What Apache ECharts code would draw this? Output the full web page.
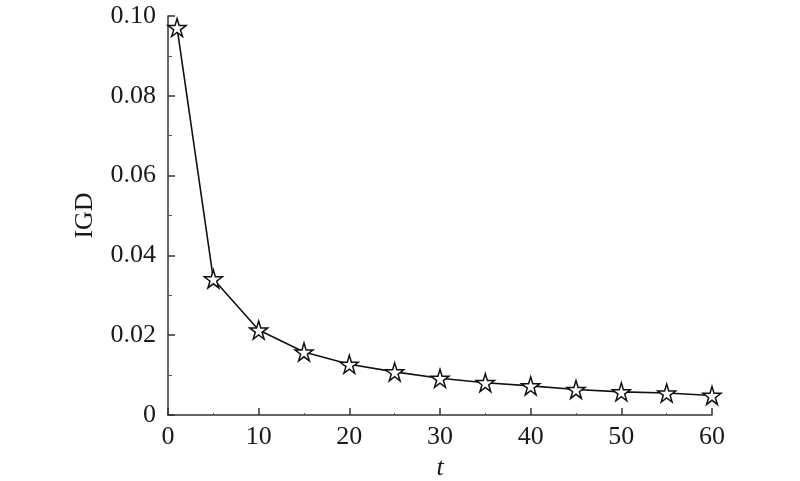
<!DOCTYPE html>
<html><head><meta charset="utf-8">
<script src="https://cdn.jsdelivr.net/npm/echarts@6/dist/echarts.min.js"></script>
<style>html,body{margin:0;padding:0;background:#fff}#c{width:800px;height:481px}</style>
</head><body><div id="c"></div>
<script>
const tValues = [1, 5, 10, 15, 20, 25, 30, 35, 40, 45, 50, 55, 60];
const igdValues = [0.0971, 0.0341, 0.0213, 0.0158, 0.0127, 0.0108, 0.0092, 0.0081, 0.0073, 0.0064, 0.0058, 0.0055, 0.0049];
const xTicks = [0, 10, 20, 30, 40, 50, 60];
const yTicks = [0, 0.02, 0.04, 0.06, 0.08, 0.10];

const font = 'Liberation Serif';
const chart = echarts.init(document.getElementById('c'));
chart.setOption({
  animation: false,
  backgroundColor: '#fff',
  grid: {left: 168, right: 88, top: 16, bottom: 66, containLabel: false, outerBoundsMode: 'none'},
  xAxis: {
    type: 'value', min: xTicks[0], max: xTicks[xTicks.length-1], interval: 10,
    name: 't', nameLocation: 'middle', nameGap: 37,
    nameTextStyle: {fontFamily: font, fontSize: 26, fontStyle: 'italic', color: '#1a1a1a'},
    axisLine: {show: true, lineStyle: {color: '#333', width: 1.5}},
    axisTick: {show: true, inside: true, length: 7, lineStyle: {color: '#333', width: 1.5}},
    minorTick: {show: true, splitNumber: 2, length: 2, lineStyle: {color: '#555', width: 1}},
    axisLabel: {fontFamily: font, fontSize: 26, color: '#1a1a1a', margin: 9},
    splitLine: {show: false}
  },
  yAxis: {
    type: 'value', min: yTicks[0], max: yTicks[yTicks.length-1], interval: 0.02,
    name: 'IGD', nameLocation: 'middle', nameGap: 70, nameRotate: 90,
    nameTextStyle: {fontFamily: font, fontSize: 26, color: '#1a1a1a'},
    axisLine: {show: true, lineStyle: {color: '#333', width: 1.5}},
    axisTick: {show: true, inside: true, length: 7, lineStyle: {color: '#333', width: 1.5}},
    minorTick: {show: true, splitNumber: 2, length: 4, lineStyle: {color: '#555', width: 1}},
    axisLabel: {fontFamily: font, fontSize: 26, color: '#1a1a1a', margin: 12,
      formatter: v => v === 0 ? '0' : v.toFixed(2)},
    splitLine: {show: false}
  },
  series: [{
    type: 'line',
    data: tValues.map((t, i) => [t, igdValues[i]]),
    symbol: 'path://M50,0 L61,35 L98,35 L68,57 L79,91 L50,70 L21,91 L32,57 L2,35 L39,35 Z',
    symbolSize: 18,
    lineStyle: {color: '#111', width: 1.6},
    itemStyle: {color: '#fff', borderColor: '#111', borderWidth: 1.5}
  }]
});
</script></body></html>
